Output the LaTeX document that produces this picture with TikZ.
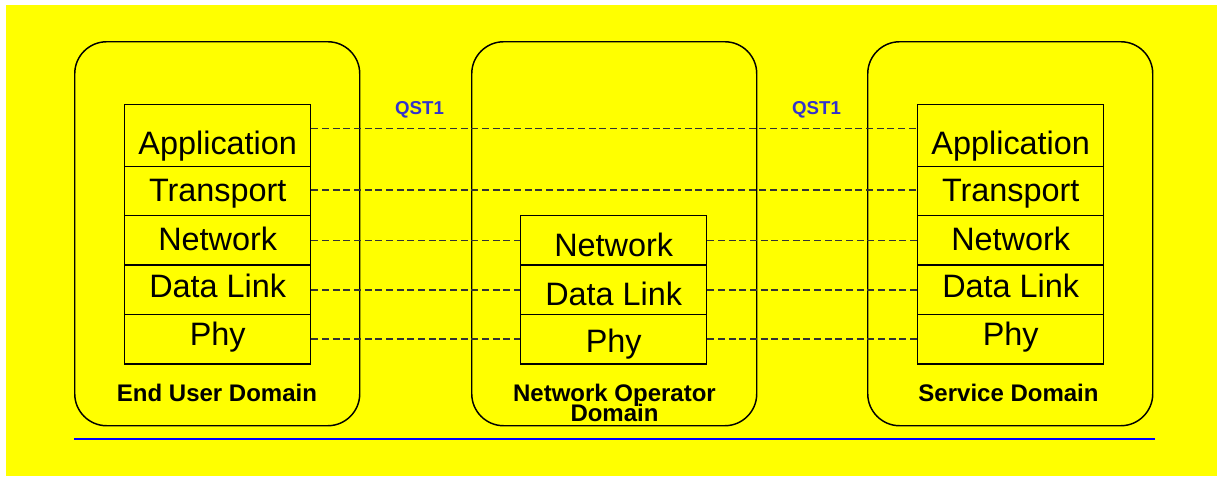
\documentclass[tikz,border=0pt]{standalone}
\usepackage{fontspec}
\setmainfont{Liberation Sans}
\definecolor{bgyellow}{RGB}{255,255,0}
\definecolor{qstblue}{RGB}{51,51,204}
\definecolor{ruleblue}{RGB}{0,0,255}
\begin{document}
\begin{tikzpicture}[x=0.75pt,y=-0.75pt,
  dombox/.style={draw=black, line width=1.1pt, rounded corners=24pt, minimum width=213.75pt, minimum height=288pt, inner sep=0pt, anchor=north west},
  layerbox/.style={draw=black, line width=1.1pt, minimum width=139.5pt, minimum height=37.05pt, inner sep=0pt, anchor=north west, font=\fontsize{24.3}{24}\selectfont, text height=#1, text depth=0pt},
  layerbox/.default=17.4pt,
  appbox/.style={layerbox=#1, minimum height=46.5pt},
  conn/.style={black!80, line width=1.15pt, dash pattern=on 5.25pt off 2.75pt},
  domlabel/.style={font={\bfseries\fontsize{18}{15}\selectfont\lineskiplimit=-20pt}, inner sep=0pt, align=center},
  qst/.style={font=\bfseries\fontsize{14}{14}\selectfont, text=qstblue, inner sep=0pt, anchor=base}
]
\useasboundingbox (0,0) rectangle (1217,476);
\fill[white] (0,0) rectangle (1217,476);
\fill[bgyellow] (6,5) rectangle (1217,476);

% domains
\node[dombox] (Ldom) at (74,41) {};
\node[dombox] (Mdom) at (471,41) {};
\node[dombox] (Rdom) at (867,41) {};

% left stack
\node[appbox=28.2pt] (Lapp) at (124,103.5) {Application};
\node[layerbox=16.1pt] (Ltr) at (124,165.5) {Transport};
\node[layerbox=15pt] (Lnet) at (124,214.9) {Network};
\node[layerbox=11.5pt] (Ldl) at (124,264.3) {Data Link};
\node[layerbox=9.3pt] (Lphy) at (124,313.7) {Phy};

% middle stack
\node[layerbox=24.5pt] (Mnet) at (520,214.9) {Network};
\node[layerbox=24pt] (Mdl) at (520,264.3) {Data Link};
\node[layerbox=20pt] (Mphy) at (520,313.7) {Phy};

% right stack
\node[appbox=28.2pt] (Rapp) at (917,103.5) {Application};
\node[layerbox=16.1pt] (Rtr) at (917,165.5) {Transport};
\node[layerbox=15pt] (Rnet) at (917,214.9) {Network};
\node[layerbox=11.5pt] (Rdl) at (917,264.3) {Data Link};
\node[layerbox=9.3pt] (Rphy) at (917,313.7) {Phy};

% connectors
\draw[conn] ([yshift=4.9pt]Lapp.east) -- ([yshift=4.9pt]Rapp.west);
\draw[conn] ([yshift=0.6pt]Ltr.east) -- ([yshift=0.6pt]Rtr.west);
\draw[conn] (Lnet.east) -- (Mnet.west);
\draw[conn] (Mnet.east) -- (Rnet.west);
\draw[conn] (Ldl.east) -- (Mdl.west);
\draw[conn] (Mdl.east) -- (Rdl.west);
\draw[conn] (Lphy.east) -- (Mphy.west);
\draw[conn] (Mphy.east) -- (Rphy.west);

% labels
\node[qst] (q1) at (419.5,114) {QST1};
\node[qst] (q2) at (816.5,114) {QST1};
\node[domlabel, anchor=base] (Llab) at (217,401) {End User Domain};
\node[domlabel, anchor=north] (Mlab) at (614.5,384) {Network Operator\\Domain};
\node[domlabel, anchor=base] (Rlab) at (1008.5,401) {Service Domain};

% blue rule
\coordinate (b1) at (74,438.5);
\coordinate (b2) at (1155,438.5);
\draw[ruleblue, line width=1.5pt] (b1) -- (b2);
\end{tikzpicture}
\end{document}
